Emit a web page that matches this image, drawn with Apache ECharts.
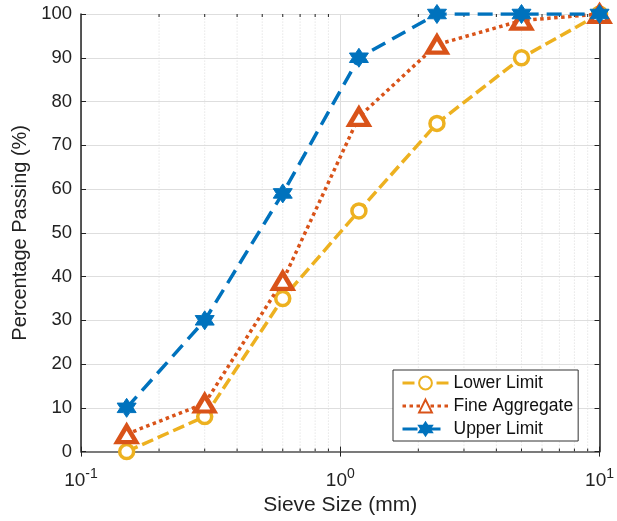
<!DOCTYPE html>
<html>
<head>
<meta charset="utf-8">
<script src="https://cdn.jsdelivr.net/npm/echarts@6/dist/echarts.min.js"></script>
<style>
  html, body { margin: 0; padding: 0; background: #fff; }
  #chart { width: 617px; height: 521px; }
</style>
</head>
<body>
<div id="chart"></div>
<script>
// sieve sizes (mm) and percentage passing
var sieveSizes = [0.15, 0.3, 0.6, 1.18, 2.36, 5, 10];
var lowerLimit = [0, 8, 35, 55, 75, 90, 100];
var fineAggregate = [4, 11, 39, 76.5, 93, 98.5, 100];
var upperLimit = [10, 30, 59, 90, 100, 100, 100];
var minorTicks = [0.2, 0.3, 0.4, 0.5, 0.6, 0.7, 0.8, 0.9, 2, 3, 4, 5, 6, 7, 8, 9];

var FONT = "Liberation Sans";

function pairs(ys) {
  return sieveSizes.map(function (x, i) { return [x, ys[i]]; });
}

// six pointed star, point up
function hexagram() {
  var pts = [];
  for (var i = 0; i < 12; i++) {
    var a = -Math.PI / 2 + i * Math.PI / 6;
    var r = i % 2 === 0 ? 50 : 29;
    pts.push((50 + r * Math.cos(a)).toFixed(2) + "," + (50 + r * Math.sin(a)).toFixed(2));
  }
  return "path://M" + pts.join("L") + "Z";
}

var chart = echarts.init(document.getElementById("chart"));
chart.setOption({
  animation: false,
  textStyle: { fontFamily: FONT },
  grid: { left: 81, right: 17, top: 14, bottom: 68 },
  legend: {
    orient: "vertical",
    left: 393,
    top: 370,
    backgroundColor: "#fff",
    borderColor: "#333",
    borderWidth: 1,
    padding: [4, 5, 3, 8],
    itemGap: 5,
    itemWidth: 46,
    itemHeight: 16,
    lineStyle: { width: 3 },
    textStyle: { fontSize: 17.5, color: "#111", fontFamily: FONT },
    data: ["Lower Limit", "Fine Aggregate", "Upper Limit"]
  },
  xAxis: [
    {
      type: "log",
      logBase: 10,
      min: 0.1,
      max: 10,
      name: "Sieve Size (mm)",
      nameLocation: "middle",
      nameGap: 40,
      nameTextStyle: { fontSize: 21, color: "#222", fontFamily: FONT },
      axisLine: { lineStyle: { color: "#222", width: 1.5 } },
      axisTick: { inside: true, length: 5, lineStyle: { color: "#222" } },
      axisLabel: {
        margin: 16,
        color: "#222",
        formatter: function (v) {
          var e = Math.round(Math.log10(v));
          return "{b|10}{s|" + e + "}";
        },
        rich: {
          b: { fontSize: 19, fontFamily: FONT, color: "#222" },
          s: { fontSize: 14, fontFamily: FONT, color: "#222", padding: [0, 0, 12, 0] }
        }
      },
      splitLine: { show: true, lineStyle: { color: "#dedede" } }
    },
    {
      type: "log",
      logBase: 10,
      min: 0.1,
      max: 10,
      position: "top",
      axisLine: { lineStyle: { color: "#888", width: 1.5 } },
      axisTick: { inside: true, length: 5, lineStyle: { color: "#222" } },
      axisLabel: { show: false },
      splitLine: { show: false }
    }
  ],
  yAxis: [
    {
      type: "value",
      min: 0,
      max: 100,
      interval: 10,
      name: "Percentage Passing (%)",
      nameLocation: "middle",
      nameGap: 50,
      nameTextStyle: { fontSize: 20, color: "#222", fontFamily: FONT },
      axisLine: { show: true, lineStyle: { color: "#222", width: 1.5 } },
      axisTick: { inside: true, length: 5, lineStyle: { color: "#222" } },
      axisLabel: { fontSize: 18.5, color: "#222", margin: 9 },
      splitLine: { show: true, lineStyle: { color: "#dedede" } }
    },
    {
      type: "value",
      min: 0,
      max: 100,
      interval: 10,
      position: "right",
      axisLine: { show: true, lineStyle: { color: "#222", width: 1.5 } },
      axisTick: { inside: true, length: 5, lineStyle: { color: "#222" } },
      axisLabel: { show: false },
      splitLine: { show: false }
    }
  ],
  series: [
    {
      // minor grid lines and ticks of the log axis
      type: "custom",
      silent: true,
      z: 1,
      data: minorTicks.map(function (v) { return [v]; }),
      encode: { x: 0 },
      renderItem: function (params, api) {
        var b = api.coord([api.value(0), 0]);
        var t = api.coord([api.value(0), 100]);
        var tick = { stroke: "#222", lineWidth: 1 };
        return {
          type: "group",
          children: [
            { type: "line", shape: { x1: b[0], y1: b[1], x2: t[0], y2: t[1] },
              style: { stroke: "#dadada", lineWidth: 1, lineDash: [1, 2] } },
            { type: "line", shape: { x1: b[0], y1: b[1], x2: b[0], y2: b[1] - 3 }, style: tick },
            { type: "line", shape: { x1: t[0], y1: t[1], x2: t[0], y2: t[1] + 3 }, style: tick }
          ]
        };
      }
    },
    {
      name: "Lower Limit",
      type: "line",
      data: pairs(lowerLimit),
      symbol: "circle",
      symbolSize: 14,
      z: 3,
      color: "#EDB120",
      lineStyle: { color: "#EDB120", width: 3.5, type: [12, 5] },
      itemStyle: { color: "#fff", borderColor: "#EDB120", borderWidth: 3.5 }
    },
    {
      name: "Fine Aggregate",
      type: "line",
      data: pairs(fineAggregate),
      symbol: "triangle",
      symbolSize: [19, 16],
      z: 4,
      color: "#D95319",
      lineStyle: { color: "#D95319", width: 3.5, type: [3.5, 3.5] },
      itemStyle: { color: "#fff", borderColor: "#D95319", borderWidth: 4.5 }
    },
    {
      name: "Upper Limit",
      type: "line",
      data: pairs(upperLimit),
      symbol: hexagram(),
      symbolSize: 19,
      z: 5,
      color: "#0072BD",
      lineStyle: { color: "#0072BD", width: 3.5, type: [15, 8] },
      itemStyle: { color: "#0072BD", borderColor: "#0072BD", borderWidth: 1 }
    }
  ]
});
</script>
</body>
</html>
